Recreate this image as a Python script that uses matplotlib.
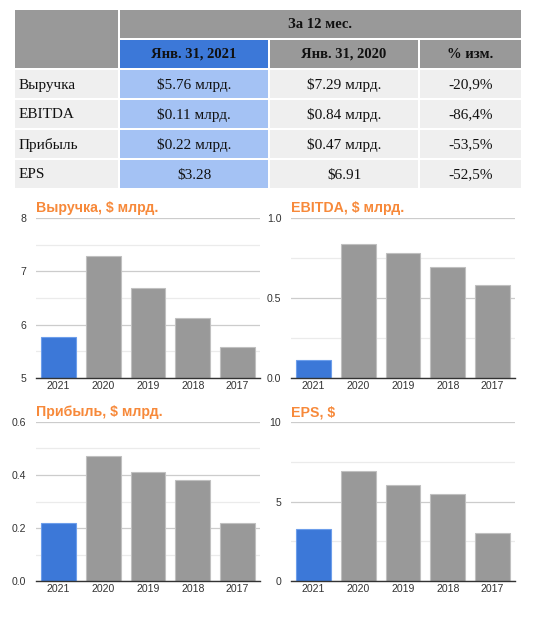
import numpy as np
import matplotlib
matplotlib.use("Agg")
import matplotlib.pyplot as plt
from matplotlib.patches import Rectangle
from matplotlib.ticker import MultipleLocator

# table data
row_names = ["Выручка", "EBITDA", "Прибыль", "EPS"]
col_2021 = ["$5.76 млрд.", "$0.11 млрд.", "$0.22 млрд.", "$3.28"]
col_2020 = ["$7.29 млрд.", "$0.84 млрд.", "$0.47 млрд.", "$6.91"]
col_chg = ["-20,9%", "-86,4%", "-53,5%", "-52,5%"]
head_top = "За 12 мес."
head_cols = ["Янв. 31, 2021", "Янв. 31, 2020", "% изм."]

# chart data
years = ["2021", "2020", "2019", "2018", "2017"]
revenue = [5.76, 7.29, 6.68, 6.12, 5.59]
ebitda = [0.11, 0.84, 0.78, 0.695, 0.58]
profit = [0.22, 0.47, 0.41, 0.38, 0.22]
eps = [3.28, 6.91, 6.03, 5.46, 3.0]

BLUE = "#3c78d8"
LBLUE = "#a4c2f4"
GRAY = "#999999"
LGRAY = "#efefef"
ORANGE = "#f7893a"

W, H = 535, 620
fig = plt.figure(figsize=(W / 100, H / 100), dpi=100)
fig.patch.set_facecolor("white")

# ---- table drawn in pixel coords
tab = fig.add_axes([0, 0, 1, 1])
tab.set_xlim(0, W)
tab.set_ylim(H, 0)
tab.axis("off")

cols = [(15, 118), (120, 268), (270, 418), (420, 521)]
rows = [(70, 98), (100, 128), (130, 158), (160, 188)]
serif = "Liberation Serif"


def box(x0, x1, y0, y1, color):
    tab.add_patch(Rectangle((x0, y0), x1 - x0, y1 - y0, color=color, lw=0))


box(15, 118, 10, 68, GRAY)
box(120, 521, 10, 38, GRAY)
tab.text((120 + 521) / 2, 28, head_top, ha="center", va="baseline",
         fontsize=10.5, fontweight="bold", family=serif, color="#111111")
for i, (x0, x1) in enumerate(cols[1:]):
    box(x0, x1, 40, 68, BLUE if i == 0 else GRAY)
    tab.text((x0 + x1) / 2, 58, head_cols[i], ha="center", va="baseline",
             fontsize=10.5, fontweight="bold", family=serif, color="#111111")

for r, (y0, y1) in enumerate(rows):
    vals = [row_names[r], col_2021[r], col_2020[r], col_chg[r]]
    for c, (x0, x1) in enumerate(cols):
        box(x0, x1, y0, y1, LBLUE if c == 1 else LGRAY)
        if c == 0:
            tab.text(x0 + 4, y0 + 18.5, vals[c], ha="left", va="baseline",
                     fontsize=11, family=serif, color="#111111")
        else:
            tab.text((x0 + x1) / 2, y0 + 18.5, vals[c], ha="center",
                     va="baseline", fontsize=11, family=serif, color="#111111")


# ---- bar charts
def px_axes(left, right, top, bottom):
    return fig.add_axes([left / W, 1 - bottom / H, (right - left) / W, (bottom - top) / H])


def draw(ax, vals, title, ylim, major, fmt):
    x = np.arange(len(vals))
    colors = [BLUE] + [GRAY] * (len(vals) - 1)
    edges = ["#6d9eeb"] + ["#c0c0c0"] * (len(vals) - 1)
    ax.bar(x, np.array(vals) - ylim[0], width=0.78, bottom=ylim[0], color=colors,
           edgecolor=edges, linewidth=0.8, zorder=3)
    ax.set_xlim(-0.5, len(vals) - 0.5)
    ax.set_ylim(*ylim)
    ax.yaxis.set_major_locator(MultipleLocator(major))
    ax.yaxis.set_minor_locator(MultipleLocator(major / 2))
    ax.yaxis.set_major_formatter(fmt)
    ax.grid(axis="y", which="major", color="#cccccc", lw=0.9, zorder=0)
    ax.grid(axis="y", which="minor", color="#ebebeb", lw=0.9, zorder=0)
    for s in ["top", "right", "left"]:
        ax.spines[s].set_visible(False)
    ax.spines["bottom"].set_color("#333333")
    ax.spines["bottom"].set_linewidth(1.0)
    ax.spines["bottom"].set_zorder(4)
    ax.set_xticks(x)
    ax.set_xticklabels(years)
    ax.tick_params(axis="both", which="both", length=0, labelsize=7.6,
                   labelcolor="#333333")
    ax.tick_params(axis="x", pad=2)
    ax.tick_params(axis="y", pad=7)
    for lab in ax.get_xticklabels() + ax.get_yticklabels():
        lab.set_family("Liberation Sans")
    ax.set_title(title, loc="left", fontsize=10.2, fontweight="bold", color=ORANGE,
                 family="Liberation Sans", pad=4)


ax1 = px_axes(36, 260, 218, 378)
draw(ax1, revenue, "Выручка, $ млрд.", (5, 8), 1, "{x:.0f}")
ax2 = px_axes(291, 515, 218, 378)
draw(ax2, ebitda, "EBITDA, $ млрд.", (0, 1.0), 0.5, "{x:.1f}")
ax3 = px_axes(36, 260, 422, 581)
draw(ax3, profit, "Прибыль, $ млрд.", (0, 0.6), 0.2, "{x:.1f}")
ax4 = px_axes(291, 515, 422, 581)
draw(ax4, eps, "EPS, $", (0, 10), 5, "{x:.0f}")

fig.savefig("out.png", dpi=100, facecolor="white")
